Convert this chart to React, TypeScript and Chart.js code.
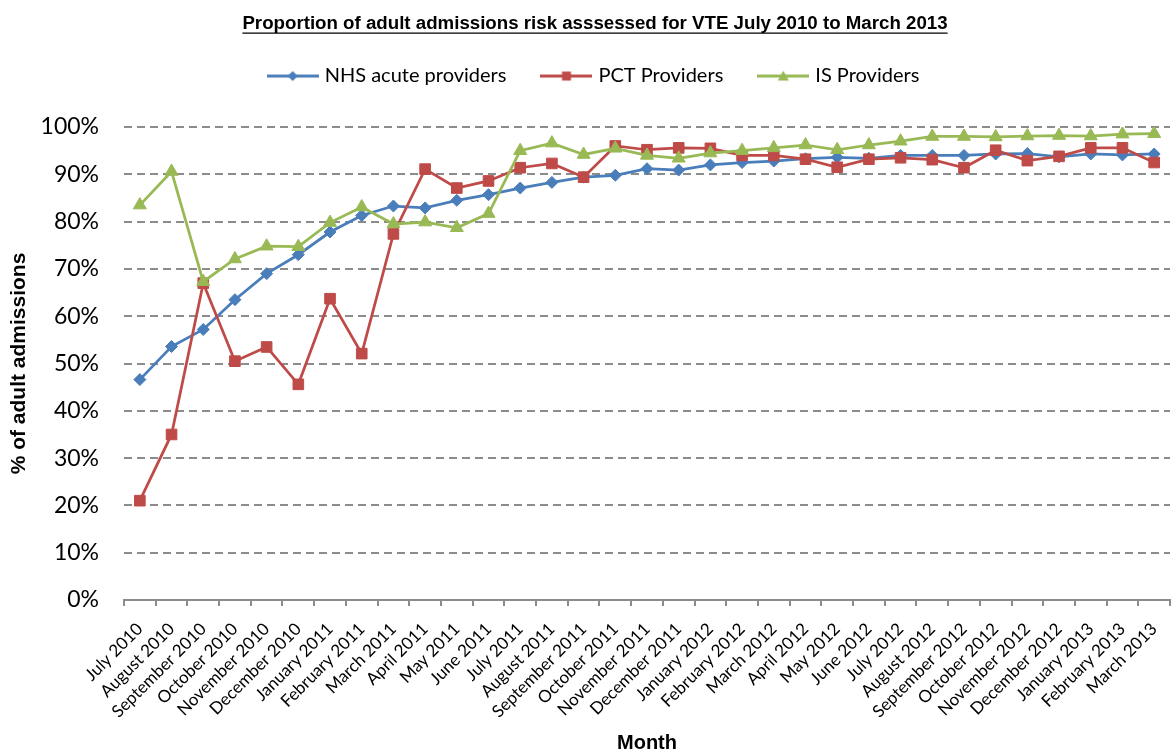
import React, { useEffect, useRef } from "react";
import { Chart, registerables } from "chart.js";

Chart.register(...registerables);

const months = [
  "July 2010", "August 2010", "September 2010", "October 2010", "November 2010", "December 2010",
  "January 2011", "February 2011", "March 2011", "April 2011", "May 2011", "June 2011",
  "July 2011", "August 2011", "September 2011", "October 2011", "November 2011", "December 2011",
  "January 2012", "February 2012", "March 2012", "April 2012", "May 2012", "June 2012",
  "July 2012", "August 2012", "September 2012", "October 2012", "November 2012", "December 2012",
  "January 2013", "February 2013", "March 2013",
];

const nhsAcute = [
  46.6, 53.6, 57.2, 63.5, 69.0, 73.0, 77.8, 81.3, 83.3, 82.9, 84.5, 85.7,
  87.1, 88.3, 89.4, 89.8, 91.2, 90.9, 92.0, 92.5, 92.8, 93.3, 93.6, 93.4,
  94.0, 94.0, 94.0, 94.3, 94.4, 93.7, 94.3, 94.1, 94.3,
];

const pctProviders = [
  21.0, 35.0, 67.0, 50.5, 53.5, 45.6, 63.7, 52.1, 77.4, 91.1, 87.1, 88.6,
  91.4, 92.3, 89.4, 96.0, 95.2, 95.6, 95.5, 94.0, 94.0, 93.2, 91.5, 93.2,
  93.5, 93.1, 91.4, 95.1, 92.9, 93.8, 95.6, 95.6, 92.5,
];

const isProviders = [
  83.5, 90.6, 67.3, 72.1, 74.8, 74.7, 79.8, 83.1, 79.5, 79.9, 78.7, 81.7,
  95.0, 96.6, 94.2, 95.5, 94.0, 93.4, 94.5, 95.0, 95.6, 96.2, 95.2, 96.2,
  97.0, 98.0, 98.0, 97.9, 98.1, 98.2, 98.1, 98.5, 98.6,
];

const yTickLabels = ["0%", "10%", "20%", "30%", "40%", "50%", "60%", "70%", "80%", "90%", "100%"];

const seriesNames = ["NHS acute providers", "PCT Providers", "IS Providers"];
const seriesColors = ["#4A7EBB", "#BE4B48", "#98B954"];

const titleText = "Proportion of adult admissions risk asssessed for VTE July 2010 to March 2013";

const BOLD_FONT = "'Liberation Sans', Arial, sans-serif";
const BODY_FONT = "Lato, 'Open Sans', sans-serif";

const TITLE_SIZE = 18.7;
const TITLE_PAD_TOP = 12.4;

function makeLegendImage(color: string, shape: string): HTMLCanvasElement {
  const c = document.createElement("canvas");
  c.width = 52;
  c.height = 16;
  const ctx = c.getContext("2d")!;
  ctx.strokeStyle = color;
  ctx.fillStyle = color;
  ctx.lineWidth = 3;
  ctx.beginPath();
  ctx.moveTo(0, 8);
  ctx.lineTo(52, 8);
  ctx.stroke();
  ctx.beginPath();
  if (shape === "diamond") {
    ctx.moveTo(26, 3);
    ctx.lineTo(31, 8);
    ctx.lineTo(26, 13);
    ctx.lineTo(21, 8);
    ctx.closePath();
  } else if (shape === "square") {
    ctx.rect(21.5, 3.5, 9, 9);
  } else {
    ctx.moveTo(26, 2.5);
    ctx.lineTo(31.5, 12.5);
    ctx.lineTo(20.5, 12.5);
    ctx.closePath();
  }
  ctx.fill();
  return c;
}

export default function App() {
  const canvasRef = useRef<HTMLCanvasElement | null>(null);

  useEffect(() => {
    const canvas = canvasRef.current;
    if (!canvas) return;

    const legendImages = [
      makeLegendImage(seriesColors[0], "diamond"),
      makeLegendImage(seriesColors[1], "square"),
      makeLegendImage(seriesColors[2], "triangle"),
    ];

    const layoutHelper = {
      id: "layoutHelper",
      beforeLayout(chart: any) {
        const lg = chart.legend;
        if (lg && !lg._patchedFit) {
          const orig = lg.fit.bind(lg);
          lg.fit = function () {
            orig();
            lg.height += 31;
            if (lg.lineWidths && lg.lineWidths.length) lg.lineWidths[0] -= 20;
          };
          lg._patchedFit = true;
        }
      },
      afterLayout(chart: any) {
        const tb = chart.titleBlock;
        if (tb) tb.left += 20;
      },
      afterDraw(chart: any) {
        const tb = chart.titleBlock;
        if (!tb) return;
        const ctx = chart.ctx;
        ctx.save();
        ctx.font = `bold ${TITLE_SIZE}px ${BOLD_FONT}`;
        const w = ctx.measureText(titleText).width;
        const cx = (tb.left + tb.right) / 2;
        const y = tb.top + TITLE_PAD_TOP + (TITLE_SIZE * 1.2) / 2 + 9.5;
        ctx.strokeStyle = "#000";
        ctx.lineWidth = 1.4;
        ctx.beginPath();
        ctx.moveTo(cx - w / 2, y);
        ctx.lineTo(cx + w / 2, y);
        ctx.stroke();
        ctx.restore();
      },
    };

    const values = [nhsAcute, pctProviders, isProviders];
    const styles = ["rectRot", "rect", "triangle"];
    const radii = [6, 7.5, 7.5];
    const orders = [3, 2, 1];

    const chart = new Chart(canvas, {
      type: "line",
      data: {
        labels: months,
        datasets: values.map((v, i) => ({
          label: seriesNames[i],
          data: v,
          borderColor: seriesColors[i],
          backgroundColor: seriesColors[i],
          pointBackgroundColor: seriesColors[i],
          pointBorderColor: seriesColors[i],
          borderWidth: 2.75,
          pointStyle: styles[i] as any,
          pointRadius: radii[i],
          pointBorderWidth: 1,
          tension: 0,
          order: orders[i],
        })),
      },
      options: {
        responsive: false,
        animation: false,
        layout: { autoPadding: false, padding: { left: 0, right: 1, top: 0, bottom: 0 } },
        plugins: {
          tooltip: { enabled: false },
          title: {
            display: true,
            text: titleText,
            color: "#000",
            font: { family: BOLD_FONT, size: TITLE_SIZE, weight: "bold" },
            padding: { top: TITLE_PAD_TOP, bottom: -6.8 },
          },
          legend: {
            display: true,
            position: "top",
            labels: {
              usePointStyle: true,
              pointStyleWidth: 44,
              padding: 38,
              color: "#000",
              font: { family: BODY_FONT, size: 20 },
              generateLabels: () =>
                seriesNames.map((name, i) => ({
                  text: name,
                  pointStyle: legendImages[i] as any,
                  fillStyle: seriesColors[i],
                  strokeStyle: seriesColors[i],
                  lineWidth: 0,
                  hidden: false,
                  datasetIndex: i,
                  fontColor: "#000",
                })),
            },
          },
        },
        scales: {
          x: {
            type: "category",
            offset: true,
            afterFit: (scale: any) => {
              scale.height = 153;
              scale.paddingLeft = 0;
              scale.paddingRight = 0;
            },
            grid: {
              display: true,
              drawOnChartArea: false,
              drawTicks: true,
              tickLength: 6,
              offset: true,
              color: "#8c8c8c",
              lineWidth: 2,
            },
            border: { display: true, color: "#8c8c8c", width: 2 },
            ticks: {
              autoSkip: false,
              minRotation: 45,
              maxRotation: 45,
              padding: 13,
              color: "#000",
              font: { family: BODY_FONT, size: 17 },
            },
            title: {
              display: true,
              text: "Month",
              color: "#000",
              font: { family: BOLD_FONT, size: 20, weight: "bold", lineHeight: 1 },
              padding: { top: 14, bottom: 0 },
            },
          },
          y: {
            min: 0,
            max: 100,
            afterFit: (scale: any) => {
              scale.width = 124;
            },
            grid: {
              display: true,
              drawTicks: false,
              color: "#8c8c8c",
              lineWidth: 2,
            },
            border: { display: false, dash: [8, 5] },
            ticks: {
              stepSize: 10,
              padding: 25,
              color: "#000",
              font: { family: BODY_FONT, size: 23 },
              callback: (_v: any, i: number) => yTickLabels[i],
            },
            title: {
              display: true,
              text: "% of adult admissions",
              color: "#000",
              font: { family: BOLD_FONT, size: 21, weight: "bold" },
              padding: { top: 7, bottom: 6 },
            },
          },
        },
      },
      plugins: [layoutHelper],
    });

    return () => chart.destroy();
  }, []);

  return (
    <div style={{ position: "absolute", left: 0, top: 0, width: 1171, height: 753, background: "#fff" }}>
      <canvas ref={canvasRef} width={1171} height={753} style={{ display: "block" }} />
    </div>
  );
}
